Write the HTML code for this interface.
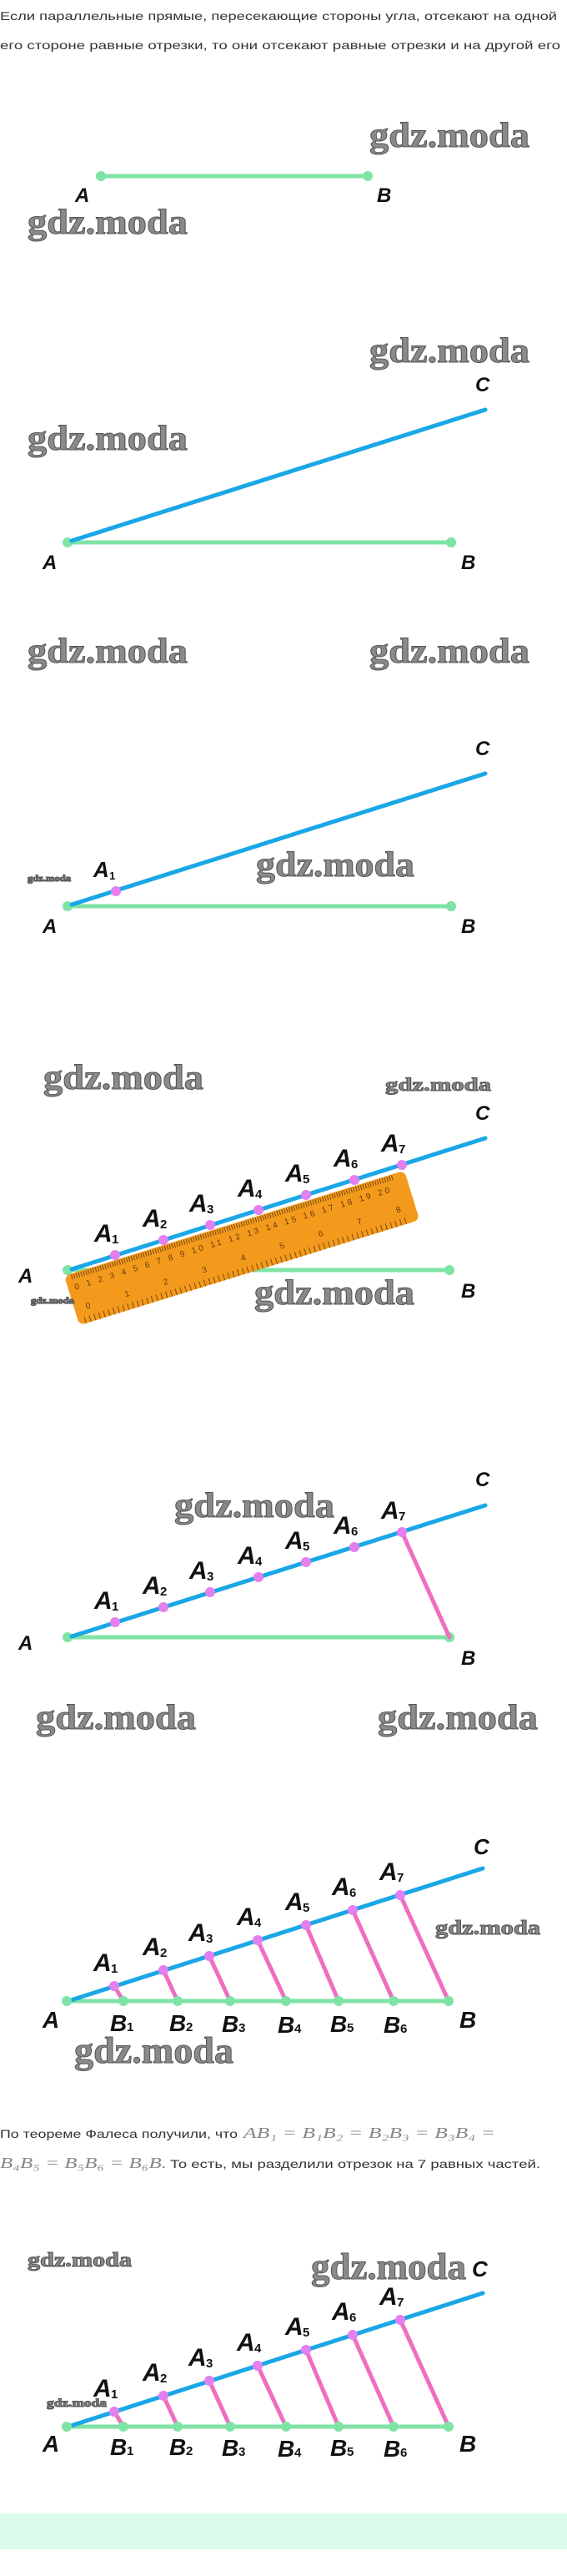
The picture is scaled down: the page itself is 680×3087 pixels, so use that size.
<!DOCTYPE html>
<html><head><meta charset="utf-8"><style>
html,body{margin:0;padding:0;background:#fff;}
svg{display:block;}
.t{font-family:"Liberation Sans",sans-serif;font-size:14px;fill:#333;}
.m{font-family:"Liberation Serif",serif;font-style:italic;fill:#888;}
.wm{font-family:"Liberation Serif",serif;font-weight:bold;fill:#8a8a8a;stroke:#555;stroke-width:1;}
.L{font-family:"Liberation Sans",sans-serif;font-style:italic;font-weight:bold;fill:#111;}
.s{font-family:"Liberation Sans",sans-serif;font-weight:bold;fill:#111;}
.g{stroke:#7fe3a6;stroke-width:5;stroke-linecap:round;}
.b{stroke:#1aa7e6;stroke-width:5;stroke-linecap:round;}
.p{stroke:#ee6fc0;stroke-width:5;stroke-linecap:round;}
</style></head><body>
<svg width="680" height="3087" viewBox="0 0 680 3087" xmlns="http://www.w3.org/2000/svg">
<text class="t" x="0" y="24" textLength="668" lengthAdjust="spacingAndGlyphs">Если параллельные прямые, пересекающие стороны угла, отсекают на одной</text>
<text class="t" x="0" y="59" textLength="672" lengthAdjust="spacingAndGlyphs">его стороне равные отрезки, то они отсекают равные отрезки и на другой его</text>

<!-- Panel 1 -->
<text class="wm" x="443" y="176" font-size="42" textLength="192" lengthAdjust="spacingAndGlyphs">gdz.moda</text>
<line class="g" x1="121" y1="211" x2="441" y2="211"/>
<circle cx="121" cy="211" r="6" fill="#7fe3a6"/><circle cx="441" cy="211" r="6" fill="#7fe3a6"/>
<text class="L" x="90" y="242" font-size="24">A</text>
<text class="L" x="452" y="242" font-size="24">B</text>
<text class="wm" x="33" y="280" font-size="42" textLength="192" lengthAdjust="spacingAndGlyphs">gdz.moda</text>

<!-- Panel 2 -->
<text class="wm" x="443" y="434" font-size="42" textLength="192" lengthAdjust="spacingAndGlyphs">gdz.moda</text>
<text class="L" x="570" y="469" font-size="24">C</text>
<text class="wm" x="33" y="539" font-size="42" textLength="192" lengthAdjust="spacingAndGlyphs">gdz.moda</text>
<line class="g" x1="81" y1="650" x2="541" y2="650"/>
<circle cx="81" cy="650" r="6" fill="#7fe3a6"/><circle cx="541" cy="650" r="6" fill="#7fe3a6"/>
<line class="b" x1="86" y1="648" x2="582" y2="491"/>
<text class="L" x="51" y="682" font-size="24">A</text>
<text class="L" x="553" y="682" font-size="24">B</text>

<!-- Panel 3 -->
<text class="wm" x="33" y="794" font-size="42" textLength="192" lengthAdjust="spacingAndGlyphs">gdz.moda</text>
<text class="wm" x="443" y="794" font-size="42" textLength="192" lengthAdjust="spacingAndGlyphs">gdz.moda</text>
<text class="L" x="570" y="905" font-size="24">C</text>
<text class="wm" x="307" y="1050" font-size="42" textLength="190" lengthAdjust="spacingAndGlyphs">gdz.moda</text>
<text class="wm" x="33" y="1056" font-size="11" stroke-width="0" textLength="52" lengthAdjust="spacingAndGlyphs">gdz.moda</text>
<line class="g" x1="81" y1="1086" x2="541" y2="1086"/>
<circle cx="81" cy="1086" r="6" fill="#7fe3a6"/><circle cx="541" cy="1086" r="6" fill="#7fe3a6"/>
<line class="b" x1="86" y1="1084" x2="582" y2="927"/>
<circle cx="139" cy="1068" r="6" fill="#e47fef"/>
<text class="L" x="112" y="1051" font-size="26">A</text><text class="s" x="131" y="1054" font-size="13">1</text>
<text class="L" x="51" y="1118" font-size="24">A</text>
<text class="L" x="553" y="1118" font-size="24">B</text>

<!-- Panel 4 -->
<text class="wm" x="52" y="1305" font-size="42" textLength="192" lengthAdjust="spacingAndGlyphs">gdz.moda</text>
<text class="wm" x="462" y="1307" font-size="22" stroke-width="0.5" textLength="127" lengthAdjust="spacingAndGlyphs">gdz.moda</text>
<text class="L" x="570" y="1342" font-size="24">C</text>
<line class="g" x1="81" y1="1522" x2="539" y2="1522"/>
<circle cx="81" cy="1522" r="6" fill="#7fe3a6"/><circle cx="539" cy="1522" r="6" fill="#7fe3a6"/>
<line class="b" x1="86" y1="1521" x2="582" y2="1364"/>
<g transform="translate(77,1529) rotate(-17.2)">
<rect x="0" y="0" width="427" height="62" rx="7" fill="#f39a1d"/>
<line x1="8" y1="4" x2="412" y2="4" stroke="#7a4a10" stroke-width="6" stroke-dasharray="1 2"/>
<line x1="8" y1="58" x2="412" y2="58" stroke="#7a4a10" stroke-width="8" stroke-dasharray="1 5"/>
<g font-family="Liberation Sans,sans-serif" font-size="10" fill="#6a3a08">
<text x="8" y="20" textLength="395" lengthAdjust="spacing">0 1 2 3 4 5 6 7 8 9 10 11 12 13 14 15 16 17 18 19 20</text>
<text x="14" y="46" textLength="395" lengthAdjust="spacing">0 1 2 3 4 5 6 7 8</text>
</g>
</g>
<g fill="#e47fef">
<circle cx="138" cy="1504" r="6"/><circle cx="196" cy="1486" r="6"/><circle cx="252" cy="1468" r="6"/><circle cx="310" cy="1450" r="6"/><circle cx="367" cy="1432" r="6"/><circle cx="425" cy="1414" r="6"/><circle cx="482" cy="1396" r="6"/>
</g>
<g>
<text class="L" x="113" y="1488" font-size="30">A</text><text class="s" x="134" y="1490" font-size="15">1</text>
<text class="L" x="171" y="1470" font-size="30">A</text><text class="s" x="192" y="1472" font-size="15">2</text>
<text class="L" x="227" y="1452" font-size="30">A</text><text class="s" x="248" y="1454" font-size="15">3</text>
<text class="L" x="285" y="1434" font-size="30">A</text><text class="s" x="306" y="1436" font-size="15">4</text>
<text class="L" x="342" y="1416" font-size="30">A</text><text class="s" x="363" y="1418" font-size="15">5</text>
<text class="L" x="400" y="1398" font-size="30">A</text><text class="s" x="421" y="1400" font-size="15">6</text>
<text class="L" x="457" y="1380" font-size="30">A</text><text class="s" x="478" y="1382" font-size="15">7</text>
</g>
<text class="L" x="22" y="1537" font-size="24">A</text>
<text class="L" x="553" y="1555" font-size="24">B</text>
<text class="wm" x="305" y="1563" font-size="42" textLength="192" lengthAdjust="spacingAndGlyphs">gdz.moda</text>
<text class="wm" x="37" y="1562" font-size="10" stroke-width="0" textLength="52" lengthAdjust="spacingAndGlyphs">gdz.moda</text>

<!-- Panel 5 -->
<text class="L" x="570" y="1781" font-size="24">C</text>
<text class="wm" x="209" y="1818" font-size="42" textLength="192" lengthAdjust="spacingAndGlyphs">gdz.moda</text>
<line class="g" x1="81" y1="1962" x2="539" y2="1962"/>
<circle cx="81" cy="1962" r="6" fill="#7fe3a6"/><circle cx="539" cy="1962" r="6" fill="#7fe3a6"/>
<line class="b" x1="86" y1="1961" x2="582" y2="1804"/>
<line class="p" x1="482" y1="1836" x2="539" y2="1962"/>
<g fill="#e47fef">
<circle cx="138" cy="1944" r="6"/><circle cx="196" cy="1926" r="6"/><circle cx="252" cy="1908" r="6"/><circle cx="310" cy="1890" r="6"/><circle cx="367" cy="1872" r="6"/><circle cx="425" cy="1854" r="6"/><circle cx="482" cy="1836" r="6"/>
</g>
<g>
<text class="L" x="113" y="1928" font-size="30">A</text><text class="s" x="134" y="1930" font-size="15">1</text>
<text class="L" x="171" y="1910" font-size="30">A</text><text class="s" x="192" y="1912" font-size="15">2</text>
<text class="L" x="227" y="1892" font-size="30">A</text><text class="s" x="248" y="1894" font-size="15">3</text>
<text class="L" x="285" y="1874" font-size="30">A</text><text class="s" x="306" y="1876" font-size="15">4</text>
<text class="L" x="342" y="1856" font-size="30">A</text><text class="s" x="363" y="1858" font-size="15">5</text>
<text class="L" x="400" y="1838" font-size="30">A</text><text class="s" x="421" y="1840" font-size="15">6</text>
<text class="L" x="457" y="1820" font-size="30">A</text><text class="s" x="478" y="1822" font-size="15">7</text>
</g>
<text class="L" x="22" y="1977" font-size="24">A</text>
<text class="L" x="553" y="1995" font-size="24">B</text>
<text class="wm" x="43" y="2072" font-size="42" textLength="192" lengthAdjust="spacingAndGlyphs">gdz.moda</text>
<text class="wm" x="453" y="2072" font-size="42" textLength="192" lengthAdjust="spacingAndGlyphs">gdz.moda</text>

<!-- Panel 6 -->
<text class="L" x="568" y="2222" font-size="26">C</text>
<line class="g" x1="80" y1="2398" x2="538" y2="2398"/>
<line class="b" x1="85" y1="2397" x2="579" y2="2239"/>
<g class="p">
<line x1="137" y1="2380" x2="148" y2="2398"/><line x1="196" y1="2361" x2="213" y2="2398"/><line x1="251" y1="2344" x2="276" y2="2398"/><line x1="309" y1="2325" x2="343" y2="2398"/><line x1="367" y1="2307" x2="406" y2="2398"/><line x1="423" y1="2289" x2="472" y2="2398"/><line x1="480" y1="2271" x2="538" y2="2398"/>
</g>
<g fill="#7fe3a6"><circle cx="80" cy="2398" r="6"/><circle cx="148" cy="2398" r="6"/><circle cx="213" cy="2398" r="6"/><circle cx="276" cy="2398" r="6"/><circle cx="343" cy="2398" r="6"/><circle cx="406" cy="2398" r="6"/><circle cx="472" cy="2398" r="6"/><circle cx="538" cy="2398" r="6"/></g>
<g fill="#e47fef"><circle cx="137" cy="2380" r="6"/><circle cx="196" cy="2361" r="6"/><circle cx="251" cy="2344" r="6"/><circle cx="309" cy="2325" r="6"/><circle cx="367" cy="2307" r="6"/><circle cx="423" cy="2289" r="6"/><circle cx="480" cy="2271" r="6"/></g>
<g>
<text class="L" x="112" y="2362" font-size="30">A</text><text class="s" x="133" y="2364" font-size="15">1</text>
<text class="L" x="171" y="2343" font-size="30">A</text><text class="s" x="192" y="2345" font-size="15">2</text>
<text class="L" x="226" y="2326" font-size="30">A</text><text class="s" x="247" y="2328" font-size="15">3</text>
<text class="L" x="284" y="2307" font-size="30">A</text><text class="s" x="305" y="2309" font-size="15">4</text>
<text class="L" x="342" y="2289" font-size="30">A</text><text class="s" x="363" y="2291" font-size="15">5</text>
<text class="L" x="398" y="2271" font-size="30">A</text><text class="s" x="419" y="2273" font-size="15">6</text>
<text class="L" x="455" y="2253" font-size="30">A</text><text class="s" x="476" y="2255" font-size="15">7</text>
</g>
<text class="wm" x="522" y="2318" font-size="24" stroke-width="0.5" textLength="126" lengthAdjust="spacingAndGlyphs">gdz.moda</text>
<g>
<text class="L" x="51" y="2430" font-size="28">A</text>
<text class="L" x="132" y="2434" font-size="28">B</text><text class="s" x="152" y="2434" font-size="15">1</text>
<text class="L" x="203" y="2434" font-size="28">B</text><text class="s" x="223" y="2434" font-size="15">2</text>
<text class="L" x="266" y="2435" font-size="28">B</text><text class="s" x="286" y="2435" font-size="15">3</text>
<text class="L" x="333" y="2436" font-size="28">B</text><text class="s" x="353" y="2436" font-size="15">4</text>
<text class="L" x="396" y="2435" font-size="28">B</text><text class="s" x="416" y="2435" font-size="15">5</text>
<text class="L" x="460" y="2436" font-size="28">B</text><text class="s" x="480" y="2436" font-size="15">6</text>
<text class="L" x="551" y="2430" font-size="28">B</text>
</g>
<text class="wm" x="89" y="2472" font-size="44" textLength="191" lengthAdjust="spacingAndGlyphs">gdz.moda</text>

<!-- Bottom text -->
<text class="t" x="0" y="2562" textLength="285" lengthAdjust="spacingAndGlyphs">По теореме Фалеса получили, что</text>
<text class="m" x="292" y="2562" font-size="18" textLength="302" lengthAdjust="spacingAndGlyphs">AB₁ = B₁B₂ = B₂B₃ = B₃B₄ =</text>
<text class="m" x="0" y="2598" font-size="18" textLength="200" lengthAdjust="spacingAndGlyphs">B₄B₅ = B₅B₆ = B₆B.</text>
<text class="t" x="204" y="2598" textLength="444" lengthAdjust="spacingAndGlyphs">То есть, мы разделили отрезок на 7 равных частей.</text>

<!-- Panel 7 -->
<text class="wm" x="33" y="2716" font-size="24" stroke-width="0.5" textLength="125" lengthAdjust="spacingAndGlyphs">gdz.moda</text>
<text class="wm" x="373" y="2731" font-size="44" textLength="186" lengthAdjust="spacingAndGlyphs">gdz.moda</text>
<text class="L" x="566" y="2728" font-size="26">C</text>
<line class="g" x1="80" y1="2908" x2="538" y2="2908"/>
<line class="b" x1="85" y1="2907" x2="579" y2="2748"/>
<g class="p">
<line x1="137" y1="2890" x2="148" y2="2908"/><line x1="196" y1="2871" x2="213" y2="2908"/><line x1="251" y1="2853" x2="276" y2="2908"/><line x1="309" y1="2835" x2="343" y2="2908"/><line x1="367" y1="2816" x2="406" y2="2908"/><line x1="423" y1="2798" x2="472" y2="2908"/><line x1="480" y1="2780" x2="538" y2="2908"/>
</g>
<g fill="#7fe3a6"><circle cx="80" cy="2908" r="6"/><circle cx="148" cy="2908" r="6"/><circle cx="213" cy="2908" r="6"/><circle cx="276" cy="2908" r="6"/><circle cx="343" cy="2908" r="6"/><circle cx="406" cy="2908" r="6"/><circle cx="472" cy="2908" r="6"/><circle cx="538" cy="2908" r="6"/></g>
<g fill="#e47fef"><circle cx="137" cy="2890" r="6"/><circle cx="196" cy="2871" r="6"/><circle cx="251" cy="2853" r="6"/><circle cx="309" cy="2835" r="6"/><circle cx="367" cy="2816" r="6"/><circle cx="423" cy="2798" r="6"/><circle cx="480" cy="2780" r="6"/></g>
<g>
<text class="L" x="112" y="2872" font-size="30">A</text><text class="s" x="133" y="2874" font-size="15">1</text>
<text class="L" x="171" y="2853" font-size="30">A</text><text class="s" x="192" y="2855" font-size="15">2</text>
<text class="L" x="226" y="2835" font-size="30">A</text><text class="s" x="247" y="2837" font-size="15">3</text>
<text class="L" x="284" y="2817" font-size="30">A</text><text class="s" x="305" y="2819" font-size="15">4</text>
<text class="L" x="342" y="2798" font-size="30">A</text><text class="s" x="363" y="2800" font-size="15">5</text>
<text class="L" x="398" y="2780" font-size="30">A</text><text class="s" x="419" y="2782" font-size="15">6</text>
<text class="L" x="455" y="2762" font-size="30">A</text><text class="s" x="476" y="2764" font-size="15">7</text>
</g>
<text class="wm" x="56" y="2884" font-size="14" stroke-width="0" textLength="72" lengthAdjust="spacingAndGlyphs">gdz.moda</text>
<g>
<text class="L" x="51" y="2938" font-size="28">A</text>
<text class="L" x="132" y="2942" font-size="28">B</text><text class="s" x="152" y="2942" font-size="15">1</text>
<text class="L" x="203" y="2942" font-size="28">B</text><text class="s" x="223" y="2942" font-size="15">2</text>
<text class="L" x="266" y="2943" font-size="28">B</text><text class="s" x="286" y="2943" font-size="15">3</text>
<text class="L" x="333" y="2944" font-size="28">B</text><text class="s" x="353" y="2944" font-size="15">4</text>
<text class="L" x="396" y="2943" font-size="28">B</text><text class="s" x="416" y="2943" font-size="15">5</text>
<text class="L" x="460" y="2944" font-size="28">B</text><text class="s" x="480" y="2944" font-size="15">6</text>
<text class="L" x="551" y="2938" font-size="28">B</text>
</g>

<rect x="0" y="3012" width="680" height="43" fill="#dcfbea"/>
</svg>
</body></html>
